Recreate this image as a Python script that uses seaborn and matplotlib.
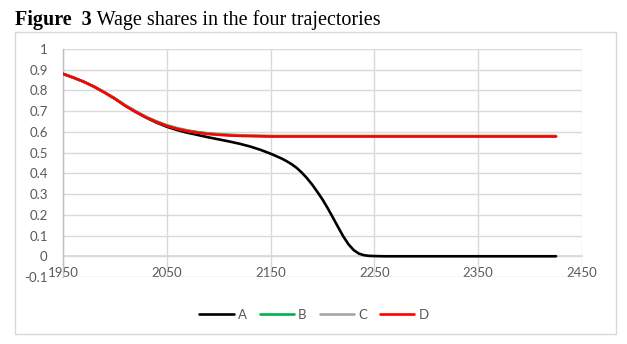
import matplotlib
matplotlib.use("Agg")
import matplotlib.pyplot as plt
import seaborn as sns
import pandas as pd
from matplotlib.patches import Rectangle
from matplotlib.lines import Line2D

# ---- data ----
years_A = [1950, 1960, 1970, 1980, 1990, 2000, 2010, 2020, 2030, 2040, 2050, 2060, 2070,
           2080, 2090, 2100, 2110, 2120, 2130, 2140, 2150, 2160, 2165, 2170, 2175, 2180,
           2185, 2190, 2195, 2200, 2205, 2210, 2215, 2220, 2225, 2230, 2235, 2240, 2245,
           2250, 2260, 2425]
share_A = [0.880, 0.862, 0.842, 0.818, 0.790, 0.760, 0.726, 0.696, 0.669, 0.645, 0.625, 0.609,
           0.596, 0.585, 0.574, 0.564, 0.554, 0.543, 0.530, 0.514, 0.495, 0.473, 0.460, 0.445,
           0.427, 0.404, 0.377, 0.346, 0.311, 0.274, 0.232, 0.187, 0.141, 0.096, 0.058, 0.030,
           0.013, 0.005, 0.002, 0.001, 0.000, 0.000]

years_BCD = [1950, 1960, 1970, 1980, 1990, 2000, 2010, 2020, 2030, 2040, 2050, 2060, 2070,
             2080, 2090, 2100, 2110, 2120, 2130, 2140, 2150, 2200, 2425]
share_B = [0.880, 0.862, 0.842, 0.818, 0.791, 0.762, 0.729, 0.700, 0.673, 0.651, 0.632, 0.618,
           0.607, 0.599, 0.593, 0.589, 0.586, 0.584, 0.582, 0.581, 0.580, 0.580, 0.580]
share_C = [0.880, 0.862, 0.842, 0.818, 0.790, 0.761, 0.727, 0.698, 0.671, 0.649, 0.630, 0.616,
           0.605, 0.597, 0.591, 0.587, 0.584, 0.582, 0.581, 0.580, 0.579, 0.579, 0.579]
share_D = [0.880, 0.862, 0.842, 0.818, 0.790, 0.760, 0.726, 0.697, 0.670, 0.648, 0.629, 0.615,
           0.604, 0.596, 0.590, 0.586, 0.583, 0.581, 0.580, 0.579, 0.578, 0.578, 0.578]

series_names = ["A", "B", "C", "D"]
series_colors = ["#000000", "#00b050", "#a5a5a5", "#ff0000"]
y_ticks = [-0.1, 0, 0.1, 0.2, 0.3, 0.4, 0.5, 0.6, 0.7, 0.8, 0.9, 1]
y_tick_labels = ["-0.1", "0", "0.1", "0.2", "0.3", "0.4", "0.5", "0.6", "0.7", "0.8", "0.9", "1"]
x_ticks = [1950, 2050, 2150, 2250, 2350, 2450]
title_bold = "Figure  3"
title_rest = " Wage shares in the four trajectories"

frames = []
for name, xs, ys in [("A", years_A, share_A), ("B", years_BCD, share_B),
                     ("C", years_BCD, share_C), ("D", years_BCD, share_D)]:
    frames.append(pd.DataFrame({"year": xs, "share": ys, "series": name}))
df = pd.concat(frames, ignore_index=True)

sns.set_theme(style="white")
plt.rcParams["font.family"] = ["Lato", "DejaVu Sans"]

W, H = 627, 344
fig = plt.figure(figsize=(W / 100, H / 100), dpi=100)
fig.patch.set_facecolor("white")

# outer chart border
fig.patches.append(Rectangle((15 / W, 1 - 334 / H), (616 - 15) / W, (334 - 32) / H,
                             transform=fig.transFigure, fill=False,
                             edgecolor="#d9d9d9", linewidth=1.0, zorder=0))

left, right, top, bottom = 63, 582, 49, 277
ax = fig.add_axes([left / W, 1 - bottom / H, (right - left) / W, (bottom - top) / H])

sns.lineplot(data=df, x="year", y="share", hue="series", hue_order=series_names,
             palette=dict(zip(series_names, series_colors)), linewidth=1.9,
             ax=ax, legend=False, sort=False, zorder=4)
for ln in ax.lines:
    ln.set_zorder(4)
    ln.set_solid_joinstyle("round")

ax.set_xlim(1950, 2450)
ax.set_ylim(-0.1, 1)
ax.set_yticks(y_ticks)
ax.set_yticklabels(y_tick_labels)
ax.set_xticks(x_ticks)
ax.set_xticklabels([str(x) for x in x_ticks])
ax.set_xlabel("")
ax.set_ylabel("")

ax.grid(True, color="#d9d9d9", linewidth=1.0)
ax.set_axisbelow(True)
for s in ["top", "right"]:
    ax.spines[s].set_visible(False)
ax.spines["bottom"].set_position(("data", 0))
ax.spines["bottom"].set_color("#d9d9d9")
ax.spines["left"].set_color("#bfbfbf")
ax.spines["left"].set_linewidth(1.0)
for s in ax.spines.values():
    s.set_zorder(1)

ax.tick_params(axis="both", length=0, labelsize=9.5, labelcolor="#595959")
ax.tick_params(axis="y", pad=11)
ax.tick_params(axis="x", pad=8)

# legend
handles = [Line2D([0], [0], color=c, linewidth=1.9) for c in series_colors]
fig.legend(handles, series_names, loc="center", bbox_to_anchor=(314 / W, 1 - 315 / H),
           ncol=4, frameon=False, fontsize=9.5, handlelength=2.6, handletextpad=0.3,
           columnspacing=1.0, labelcolor="#595959")

# title
t1 = fig.text(15 / W, 1 - 25 / H, title_bold, fontsize=14.5, fontweight="bold",
              family=["Liberation Serif"], color="black", va="baseline")
fig.canvas.draw()
bb = t1.get_window_extent()
fig.text(bb.x1 / W, 1 - 25 / H, title_rest, fontsize=14.5,
         family=["Liberation Serif"], color="black", va="baseline")

fig.savefig("out.png", dpi=100, facecolor="white")
